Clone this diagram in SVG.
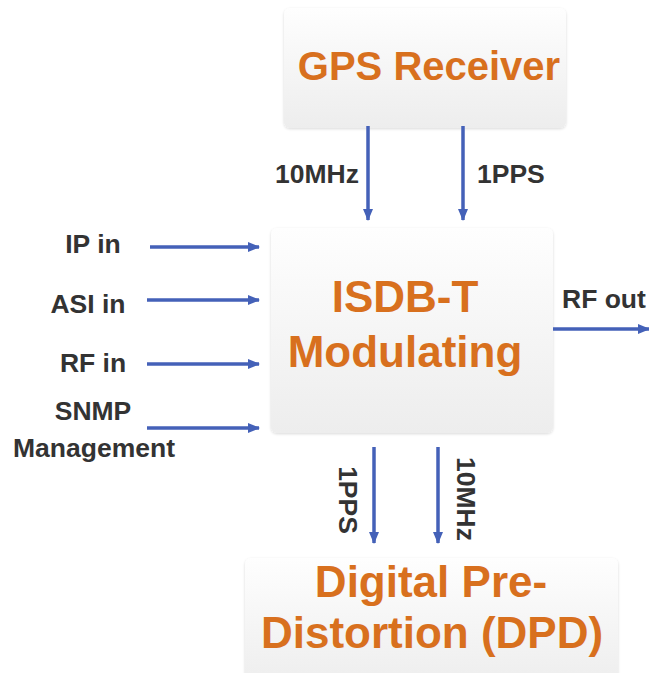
<svg xmlns="http://www.w3.org/2000/svg" width="649" height="673" viewBox="0 0 649 673">
<defs>
<linearGradient id="g" x1="0" y1="0" x2="0" y2="1">
<stop offset="0" stop-color="#fefefe"/>
<stop offset="1" stop-color="#ededed"/>
</linearGradient>
<filter id="sh" x="-5%" y="-5%" width="110%" height="115%">
<feGaussianBlur in="SourceAlpha" stdDeviation="1.5"/>
<feOffset dx="0" dy="1" result="b"/>
<feComponentTransfer><feFuncA type="linear" slope="0.15"/></feComponentTransfer>
<feMerge><feMergeNode/><feMergeNode in="SourceGraphic"/></feMerge>
</filter>
<marker id="ah" viewBox="0 0 12 10" refX="11" refY="5" markerWidth="12" markerHeight="10" markerUnits="userSpaceOnUse" orient="auto">
<path d="M0,0 L12,5 L0,10 Z" fill="#4461b8"/>
</marker>
<style>
.box{fill:url(#g);filter:url(#sh);}
.t{font-family:"Liberation Sans",Arial,sans-serif;font-weight:bold;fill:#d8701e;text-anchor:middle;}
.l{font-family:"Liberation Sans",Arial,sans-serif;font-weight:bold;fill:#333333;font-size:26.5px;}
.c{stroke:#4461b8;stroke-width:3.5;fill:none;marker-end:url(#ah);}
</style>
</defs>
<rect width="649" height="673" fill="#ffffff"/>
<g id="gps">
<rect class="box" x="284" y="8" width="282" height="120" rx="6"/>
<text class="t" x="429" y="80" font-size="40">GPS Receiver</text>
</g>
<g id="isdb">
<rect class="box" x="271" y="228" width="282" height="205" rx="6"/>
<text class="t" x="405" y="312" font-size="44">ISDB-T</text>
<text class="t" x="405" y="367" font-size="44">Modulating</text>
</g>
<g id="dpd">
<rect class="box" x="245" y="558" width="373" height="130" rx="6"/>
<text class="t" x="431" y="597" font-size="44">Digital Pre-</text>
<text class="t" x="432" y="648" font-size="44">Distortion (DPD)</text>
</g>
<g id="connectors">
<line class="c" x1="368" y1="126" x2="368" y2="220"/>
<line class="c" x1="463" y1="126" x2="463" y2="220"/>
<line class="c" x1="150" y1="247" x2="259" y2="247"/>
<line class="c" x1="147" y1="300" x2="259" y2="300"/>
<line class="c" x1="147" y1="364" x2="259" y2="364"/>
<line class="c" x1="147" y1="428" x2="259" y2="428"/>
<line class="c" x1="553" y1="329" x2="649" y2="329"/>
<line class="c" x1="374" y1="447" x2="374" y2="543"/>
<line class="c" x1="438" y1="447" x2="438" y2="543"/>
</g>
<g id="labels">
<text class="l" x="359" y="183" text-anchor="end">10MHz</text>
<text class="l" x="477" y="183">1PPS</text>
<text class="l" x="93" y="253" text-anchor="middle">IP in</text>
<text class="l" x="88" y="313" text-anchor="middle">ASI in</text>
<text class="l" x="93" y="372" text-anchor="middle">RF in</text>
<text class="l" x="93" y="420" text-anchor="middle">SNMP</text>
<text class="l" x="94" y="457" text-anchor="middle">Management</text>
<text class="l" x="562" y="308">RF out</text>
<text class="l" transform="translate(339,500) rotate(90)" text-anchor="middle">1PPS</text>
<text class="l" transform="translate(457,499) rotate(90)" text-anchor="middle">10MHz</text>
</g>
</svg>
